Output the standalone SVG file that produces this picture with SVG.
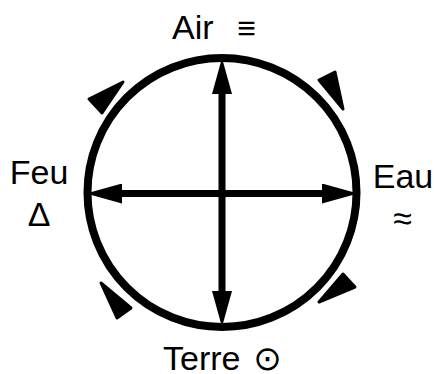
<svg xmlns="http://www.w3.org/2000/svg" width="434" height="374" viewBox="0 0 434 374">
  <style>
    .lbl { font-family: "Liberation Sans", Arial, "DejaVu Sans", sans-serif; font-size: 34px; fill: #000; }
    .sym { font-family: "Liberation Sans", Arial, "DejaVu Sans", sans-serif; fill: #000; }
    .ring { fill: none; stroke: #000; stroke-width: 8; }
    .axis { stroke: #000; stroke-width: 7; fill: none; }
    .tri { fill: #000; stroke: #000; stroke-width: 3; stroke-linejoin: round; }
  </style>
  <defs>
    <marker id="ah" viewBox="0 0 36 20" refX="6" refY="10" markerWidth="36" markerHeight="20" markerUnits="userSpaceOnUse" orient="auto-start-reverse">
      <path d="M0,0 L36,10 L0,20 z" fill="#000"/>
    </marker>
  </defs>
  <rect width="434" height="374" fill="#fff"/>

  <g id="ring">
    <circle class="ring" cx="222" cy="192.5" r="134.5"/>
  </g>

  <g id="connectors">
    <line class="axis" x1="222" y1="88" x2="222" y2="297" marker-start="url(#ah)" marker-end="url(#ah)"/>
    <line class="axis" x1="116" y1="193.5" x2="328" y2="193.5" marker-start="url(#ah)" marker-end="url(#ah)"/>
  </g>

  <g id="marks">
    <polygon class="tri" points="89,99 123,82 102,113"/>
    <polygon class="tri" points="319,80 335,72 343,109"/>
    <polygon class="tri" points="343,274 355,287 319,302"/>
    <polygon class="tri" points="101,283 131,308 117,318"/>
  </g>

  <g id="air">
    <text class="lbl" x="172" y="39">Air</text>
    <text class="sym" x="246.5" y="39" font-size="32" text-anchor="middle">≡</text>
  </g>
  <g id="feu">
    <text class="lbl" x="39" y="184" text-anchor="middle">Feu</text>
    <text class="sym" x="39" y="226" font-size="34" text-anchor="middle">Δ</text>
  </g>
  <g id="eau">
    <text class="lbl" x="403" y="188" text-anchor="middle">Eau</text>
    <text class="sym" x="402.5" y="230" font-size="34" text-anchor="middle">≈</text>
  </g>
  <g id="terre">
    <text class="lbl" x="163" y="370">Terre</text>
    <text class="sym" x="267.5" y="370" font-size="34" font-family="'DejaVu Sans', sans-serif" text-anchor="middle">⊙</text>
  </g>
</svg>
